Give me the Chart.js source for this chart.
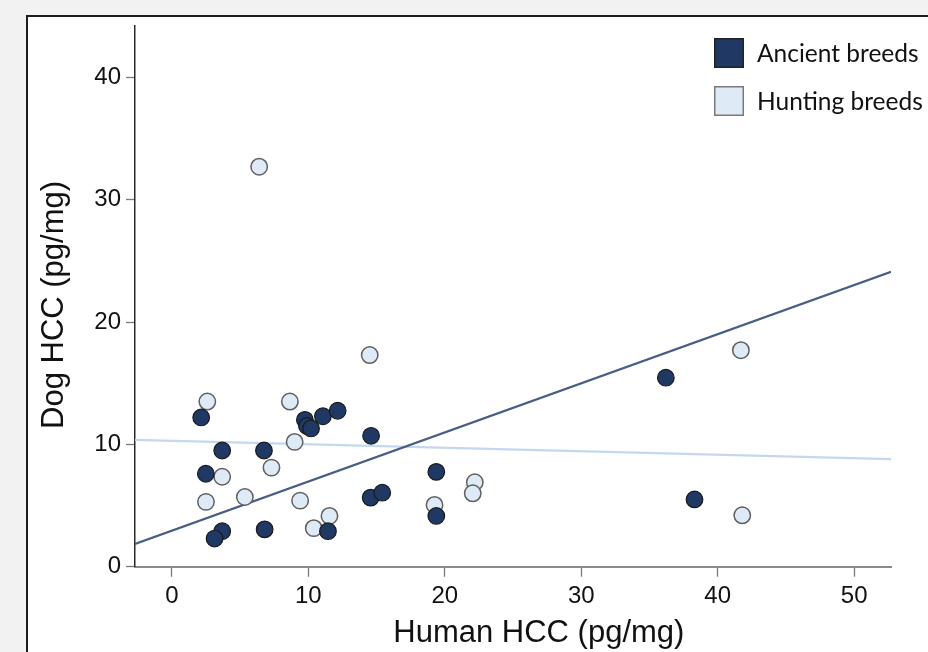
<!DOCTYPE html>
<html>
<head>
<meta charset="utf-8">
<script src="https://cdn.jsdelivr.net/npm/chart.js@4.4.0/dist/chart.umd.min.js"></script>
<style>
  html, body { margin: 0; padding: 0; background: #f2f2f2; width: 928px; height: 652px; overflow: hidden; }
  #frame { position: absolute; left: 26px; top: 15px; width: 920px; height: 660px; background: #ffffff;
           border-left: 2px solid #1e1e1e; border-top: 2px solid #1e1e1e; }
  #wrap { position: absolute; left: 0; top: 0; width: 928px; height: 652px; }
</style>
</head>
<body>
<div id="frame"></div>
<div id="wrap"><canvas id="c" width="928" height="652"></canvas></div>
<script>
// ---- data ----
const seriesNames = ["Ancient breeds", "Hunting breeds"];
const ancientX = [2.15, 3.69, 6.75, 2.49, 3.69, 3.13, 6.8, 9.75, 9.9, 10.2, 11.07, 12.15, 14.6, 14.57, 15.42, 11.44, 19.38, 19.38, 36.2, 38.3];
const ancientY = [12.2, 9.5, 9.5, 7.6, 2.9, 2.3, 3.05, 12.0, 11.5, 11.3, 12.3, 12.75, 10.7, 5.65, 6.05, 2.9, 7.75, 4.15, 15.45, 5.5];
const huntingX = [2.6, 14.5, 8.65, 9.0, 3.69, 7.3, 2.5, 5.35, 9.4, 10.4, 11.55, 19.25, 22.2, 22.05, 6.4, 41.7, 41.8];
const huntingY = [13.5, 17.3, 13.5, 10.2, 7.35, 8.1, 5.3, 5.7, 5.4, 3.15, 4.15, 5.05, 6.9, 6.0, 32.7, 17.7, 4.2];
const fitX = [-2.7, 52.7];
const ancientFit = [1.86, 24.1];
const huntingFit = [10.36, 8.8];
const xTicks = [0, 10, 20, 30, 40, 50];
const yTicks = [0, 10, 20, 30, 40];

const pts = (xs, ys) => xs.map((x, i) => ({ x: x, y: ys[i] }));

const colors = {
  ancientFill: '#1f3864', ancientBorder: '#1a1a1a',
  huntFill: '#deeaf6', huntBorder: '#5f5f5f',
  ancientLine: '#4a5d85', huntLine: '#c3d8ee'
};

const legendPlugin = {
  id: 'boxLegend',
  afterDraw(chart) {
    const ctx = chart.ctx;
    const items = chart.data.datasets.filter(d => d.inLegend);
    ctx.save();
    items.forEach((d, i) => {
      const bx = 714, by = 38 + i * 48, s = 30;
      ctx.fillStyle = d.backgroundColor;
      ctx.fillRect(bx, by, s, s);
      ctx.lineWidth = 1.5;
      ctx.strokeStyle = d.legendBorder;
      ctx.strokeRect(bx + 0.75, by + 0.75, s - 1.5, s - 1.5);
      ctx.fillStyle = '#111';
      ctx.font = '24.5px Lato, "Open Sans", sans-serif';
      ctx.textBaseline = 'middle';
      ctx.textAlign = 'left';
      ctx.fillText(d.label, 757, by + s / 2 + 1);
    });
    ctx.restore();
  }
};

new Chart(document.getElementById('c'), {
  type: 'scatter',
  data: {
    datasets: [
      { label: seriesNames[0], inLegend: true, legendBorder: '#222', data: pts(ancientX, ancientY),
        backgroundColor: colors.ancientFill, borderColor: colors.ancientBorder, borderWidth: 1.2,
        pointRadius: 8.3, order: 1, clip: false },
      { label: seriesNames[1], inLegend: true, legendBorder: '#7a7a7a', data: pts(huntingX, huntingY),
        backgroundColor: colors.huntFill, borderColor: colors.huntBorder, borderWidth: 1.5,
        pointRadius: 8.2, order: 2, clip: false },
      { label: 'Ancient fit', data: pts(fitX, ancientFit), showLine: true, pointRadius: 0,
        borderColor: colors.ancientLine, borderWidth: 2.3, order: 3 },
      { label: 'Hunting fit', data: pts(fitX, huntingFit), showLine: true, pointRadius: 0,
        borderColor: colors.huntLine, borderWidth: 2.3, order: 4 }
    ]
  },
  options: {
    responsive: false,
    animation: false,
    devicePixelRatio: 1,
    layout: { padding: { left: 0, top: 26, right: 37, bottom: 0 } },
    plugins: { legend: { display: false }, tooltip: { enabled: false } },
    scales: {
      x: {
        type: 'linear', min: -2.7, max: 52.7,
        afterFit(scale) { scale.height = 85.3; },
        afterBuildTicks(scale) { scale.ticks = xTicks.map(v => ({ value: v })); },
        ticks: { includeBounds: false, color: '#111', padding: 5,
                 font: { family: '"Liberation Sans", Arial, sans-serif', size: 24 } },
        grid: { drawOnChartArea: false, drawTicks: true, tickLength: 10, color: '#7a7a7a', tickWidth: 1.3 },
        border: { display: true, color: '#8a8a8a', width: 2 },
        title: { display: true, text: '      Human HCC (pg/mg)', color: '#111', padding: { top: 0, bottom: 0 },
                 font: { family: '"Liberation Sans", Arial, sans-serif', size: 31 } }
      },
      y: {
        type: 'linear', min: 0, max: 44.2,
        afterFit(scale) { scale.width = 135; },
        afterBuildTicks(scale) { scale.ticks = yTicks.map(v => ({ value: v })); },
        ticks: { includeBounds: false, color: '#111', padding: 5,
                 font: { family: '"Liberation Sans", Arial, sans-serif', size: 24 } },
        grid: { drawOnChartArea: false, drawTicks: true, tickLength: 9, color: '#7a7a7a', tickWidth: 1.3 },
        border: { display: true, color: '#2a2a2a', width: 1.5 },
        title: { display: true, text: 'Dog HCC (pg/mg)  ', color: '#111', padding: { top: 36, bottom: 0 },
                 font: { family: '"Liberation Sans", Arial, sans-serif', size: 31 } }
      }
    }
  },
  plugins: [legendPlugin]
});
</script>
</body>
</html>
